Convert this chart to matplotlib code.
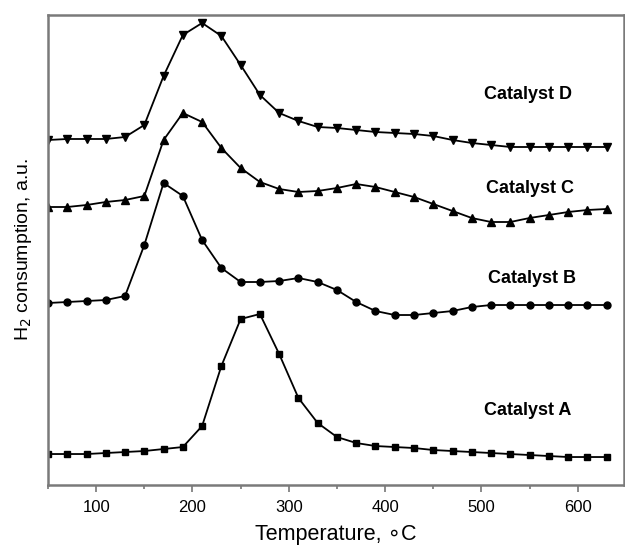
import matplotlib
matplotlib.use("Agg")
import matplotlib.pyplot as plt
from matplotlib.ticker import MultipleLocator

plt.rcParams['font.family'] = ['Liberation Sans', 'DejaVu Sans']

temps = list(range(50, 631, 20))

# H2 consumption, arbitrary units
catA = [31, 31, 31, 32, 33, 34, 36, 38, 59, 119, 166, 171, 131, 87, 62,
        48, 42, 39, 38, 37, 35, 34, 33, 32, 31, 30, 29, 28, 28, 28]
catB = [182, 183, 184, 185, 189, 240, 302, 289, 245, 217, 203, 203, 204, 207, 203,
        195, 183, 174, 170, 170, 172, 174, 178, 180, 180, 180, 180, 180, 180, 180]
catC = [278, 278, 280, 283, 285, 289, 345, 372, 363, 337, 317, 303, 296, 293, 294,
        297, 301, 298, 293, 288, 281, 274, 267, 263, 263, 267, 270, 273, 275, 276]
catD = [345, 346, 346, 346, 348, 360, 409, 450, 462, 449, 420, 390, 372, 364, 358,
        357, 355, 353, 352, 351, 349, 345, 342, 340, 338, 338, 338, 338, 338, 338]

labels = ["Catalyst A", "Catalyst B", "Catalyst C", "Catalyst D"]
label_pos = [(548, 75), (553, 207), (550, 297), (548, 390)]

fig = plt.figure(figsize=(6.25, 5.47), dpi=100)
ax = fig.add_axes([0.0768, 0.1133, 0.9216, 0.8593])

ax.plot(temps, catA, "-s", color="black", lw=1.3, ms=5)
ax.plot(temps, catB, "-o", color="black", lw=1.3, ms=5)
ax.plot(temps, catC, "-^", color="black", lw=1.3, ms=6)
ax.plot(temps, catD, "-v", color="black", lw=1.3, ms=6)

for lab, (x, y) in zip(labels, label_pos):
    ax.text(x, y, lab, ha="center", va="center", fontsize=13, fontweight="bold")

ax.set_xlim(50, 648)
ax.set_ylim(0, 470)
ax.set_yticks([])
ax.xaxis.set_major_locator(MultipleLocator(100))
ax.xaxis.set_minor_locator(MultipleLocator(50))
ax.tick_params(axis="x", which="major", length=5, width=1.2, color="#777777",
               labelsize=12, pad=6)
ax.tick_params(axis="x", which="minor", length=3, width=1.2, color="#777777")
for s in ax.spines.values():
    s.set_color("#7a7a7a")
    s.set_linewidth(1.8)

ax.set_xlabel("Temperature, \u2218C", fontsize=15.5, labelpad=6)
ax.set_ylabel("H$_2$ consumption, a.u.", fontsize=14, labelpad=10)

fig.savefig("out.png", dpi=100)
